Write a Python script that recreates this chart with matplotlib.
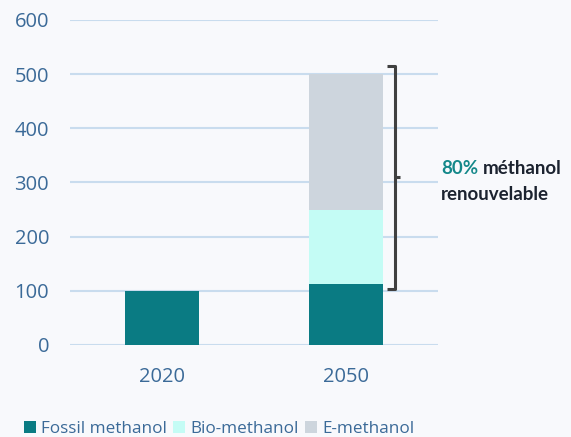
import matplotlib.pyplot as plt
import numpy as np

years = ["2020", "2050"]
fossil = [100, 113]
bio = [0, 137]
emeth = [0, 250]
labels = ["Fossil methanol", "Bio-methanol", "E-methanol"]
colors = ["#0a7b83", "#c4fcf5", "#cdd5dd"]
yticks = [0, 100, 200, 300, 400, 500, 600]

tick_col = "#3b6a98"
bg = "#f8f9fc"

fig = plt.figure(figsize=(5.71, 4.37), dpi=100, facecolor=bg)
ax = fig.add_axes([70 / 571, 92 / 437, 368 / 571, 325 / 437], facecolor=bg)

x = np.arange(len(years))
b1 = ax.bar(x, fossil, width=0.4, color=colors[0], label=labels[0], zorder=3)
b2 = ax.bar(x, bio, width=0.4, bottom=fossil, color=colors[1], label=labels[1], zorder=3)
bottom2 = np.array(fossil) + np.array(bio)
b3 = ax.bar(x, emeth, width=0.4, bottom=bottom2, color=colors[2], label=labels[2], zorder=3)

ax.set_xlim(-0.5, 1.5)
ax.set_ylim(0, 600)
ax.set_yticks(yticks)
ax.set_xticks(x)
ax.set_xticklabels(years)
ax.grid(axis="y", color="#c9dcee", linewidth=1.5, zorder=0)
for s in ax.spines.values():
    s.set_visible(False)
ax.tick_params(length=0, labelsize=14.5, labelcolor=tick_col, pad=15)
ax.tick_params(axis="x", pad=16)
for t in ax.get_xticklabels() + ax.get_yticklabels():
    t.set_fontfamily("Open Sans")

# bracket for renewable share
top = bottom2[1] + emeth[1]
low = fossil[1]
bx = 1.265
kw = dict(color="#404040", lw=2.2, clip_on=False, solid_capstyle="butt", zorder=4)
ax.plot([bx - 0.04, bx, bx, bx - 0.04], [top + 15, top + 15, low - 10, low - 10], **kw)
ax.plot([bx, bx + 0.03], [310, 310], **kw)

fkw = dict(fontsize=13.5, fontweight="bold", fontfamily="Lato", va="center", clip_on=False)
t1 = ax.text(1.518, 325, "80%", color="#14888a", **fkw)
ax.annotate("méthanol", xy=(1, 0.5), xycoords=t1, xytext=(3, 0), textcoords="offset points",
            color="#1c2330", **fkw)
ax.text(1.518, 277, "renouvelable", color="#1c2330", **fkw)

leg = fig.legend(handles=[b1, b2, b3], loc="center left", bbox_to_anchor=(24 / 571, 8 / 437),
                 ncol=3, frameon=False, borderpad=0, borderaxespad=0,
                 handlelength=0.68, handleheight=0.68,
                 handletextpad=0.3, columnspacing=0.4,
                 prop={"family": "Open Sans", "size": 12.3})
for t in leg.get_texts():
    t.set_color(tick_col)

fig.savefig("out.png", dpi=100, facecolor=bg)
